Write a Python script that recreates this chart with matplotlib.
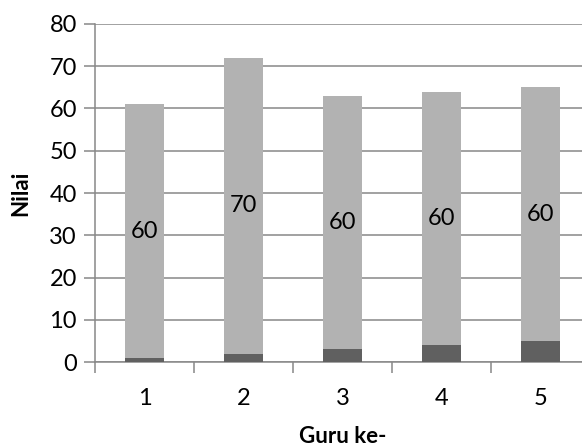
import numpy as np
import matplotlib
matplotlib.use('Agg')
import matplotlib.pyplot as plt

guru = [1, 2, 3, 4, 5]
bawah = [1, 2, 3, 4, 5]
nilai = [60, 70, 60, 60, 60]

plt.rcParams['font.family'] = ['Lato', 'DejaVu Sans']

fig = plt.figure(figsize=(5.82, 4.48), dpi=100)
ax = fig.add_axes([95/582, 86/448, 495/582, 338/448])

x = np.arange(len(guru)) + 1
ax.bar(x, bawah, width=0.4, color='#606060', zorder=3)
ax.bar(x, nilai, width=0.4, bottom=bawah, color='#b2b2b2', zorder=3)

for xi, b, v in zip(x, bawah, nilai):
    ax.text(xi, b + v / 2, str(v), ha='center', va='center', fontsize=17, color='black', zorder=4)

ax.set_xlim(0.5, 5.5)
ax.set_ylim(0, 80)
ax.set_yticks(range(0, 81, 10))
ax.set_xticks(x)
ax.set_xticklabels([str(g) for g in guru])
ax.set_xticks(np.arange(0.5, 5.6, 1), minor=True)

ax.yaxis.grid(True, color='#888888', linewidth=1.1, zorder=0)
for s in ['top', 'right']:
    ax.spines[s].set_visible(False)
for s in ['left', 'bottom']:
    ax.spines[s].set_color('#888888')
    ax.spines[s].set_linewidth(1.1)

ax.tick_params(axis='y', length=8, width=1.1, color='#888888', labelsize=17, pad=5)
ax.tick_params(axis='x', which='major', length=0, labelsize=17, pad=19)
ax.tick_params(axis='x', which='minor', length=8, width=1.1, color='#888888')

ax.set_ylabel('Nilai', fontsize=16, fontweight='bold', labelpad=13)
ax.set_xlabel('Guru ke-', fontsize=16, fontweight='bold', labelpad=12)

fig.savefig('out.png', dpi=100)
